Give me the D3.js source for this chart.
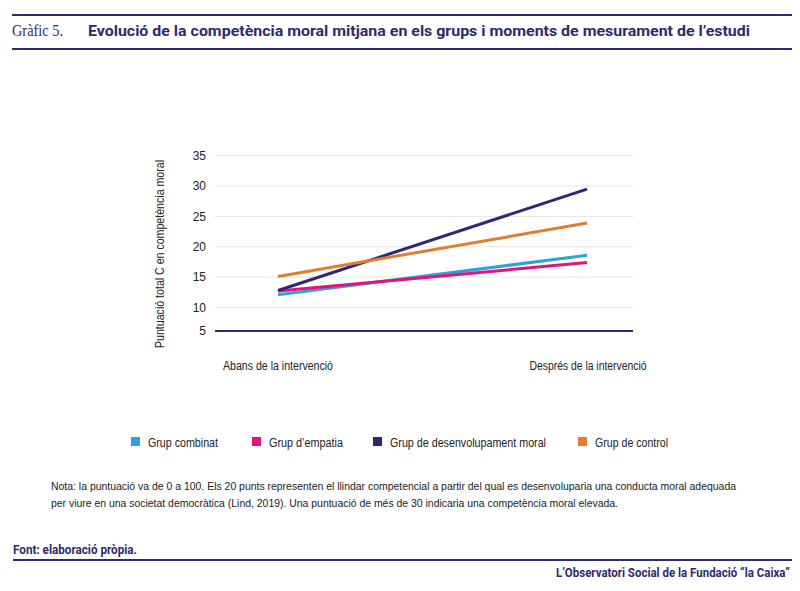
<!DOCTYPE html>
<html>
<head>
<meta charset="utf-8">
<script src="https://cdn.jsdelivr.net/npm/d3@7"></script>
<style>
  body { margin: 0; background: #fff; }
  svg text { font-family: "Liberation Sans", Arial, sans-serif; }
</style>
</head>
<body>
<div id="chart"></div>
<script>
// DATA
const moments = ['Abans de la intervenció', 'Després de la intervenció'];
const groups = ['Grup combinat', 'Grup d\u2019empatia', 'Grup de desenvolupament moral', 'Grup de control'];
const combinat = [12.1, 18.6];
const empatia = [12.7, 17.4];
const desenvolupament = [12.8, 29.5];
const control = [15.1, 23.9];
const yTicks = [5, 10, 15, 20, 25, 30, 35];
const colors = ['#2ea3d9', '#e5127d', '#2e2775', '#e07d2e'];

const series = [combinat, empatia, desenvolupament, control];
const navy = '#2e2a6e';

// SVG
const width = 800, height = 591;
const svg = d3.select('#chart').append('svg')
  .attr('width', width).attr('height', height);

// HEADER
svg.append('line').attr('x1', 12).attr('x2', 792).attr('y1', 15).attr('y2', 15)
  .attr('stroke', navy).attr('stroke-width', 2);
svg.append('line').attr('x1', 12).attr('x2', 792).attr('y1', 49).attr('y2', 49)
  .attr('stroke', navy).attr('stroke-width', 2);
svg.append('text').text('Gràfic 5.')
  .attr('x', 12).attr('y', 36)
  .attr('textLength', 51).attr('lengthAdjust', 'spacingAndGlyphs')
  .style('font-family', '"Liberation Serif", "DejaVu Serif", serif')
  .style('font-size', '16px').attr('fill', navy);
svg.append('text').text('Evolució de la competència moral mitjana en els grups i moments de mesurament de l\u2019estudi')
  .attr('x', 88).attr('y', 36)
  .attr('textLength', 662).attr('lengthAdjust', 'spacingAndGlyphs')
  .style('font-family', 'Roboto, sans-serif').style('font-weight', 'bold')
  .style('font-size', '15px').attr('fill', navy);

// SCALES
const x = d3.scalePoint().domain(moments).range([278, 587]);
const y = d3.scaleLinear().domain([5, 10, 35]).range([331, 307.5, 155.7]);

// GRID
const plot = svg.append('g');
plot.selectAll('.grid').data(yTicks.filter(d => d > 5)).join('line')
  .attr('x1', 215).attr('x2', 633)
  .attr('y1', d => y(d)).attr('y2', d => y(d))
  .attr('stroke', '#e6e6e6').attr('stroke-width', 1);

// Y AXIS
const yAxis = plot.append('g')
  .attr('transform', 'translate(215,0)')
  .call(d3.axisLeft(y).tickValues(yTicks).tickSize(0).tickPadding(9));
yAxis.select('.domain').remove();
yAxis.selectAll('text').style('font-size', '12px').attr('fill', '#222')
  .style('font-family', '"Liberation Sans", Arial, sans-serif');

// BASELINE
plot.append('line').attr('x1', 215).attr('x2', 633)
  .attr('y1', y(5)).attr('y2', y(5))
  .attr('stroke', navy).attr('stroke-width', 2);

// X LABELS
const xLabLen = [110, 117];
plot.selectAll('.xlab').data(moments).join('text')
  .text(d => d)
  .attr('x', (d, i) => x(d) + (i ? 1 : 0)).attr('y', 370)
  .attr('text-anchor', 'middle')
  .attr('textLength', (d, i) => xLabLen[i]).attr('lengthAdjust', 'spacingAndGlyphs')
  .style('font-size', '12px').attr('fill', '#222');

// Y TITLE
svg.append('text').text('Puntuació total C en competència moral')
  .attr('transform', 'translate(164,254)rotate(-90)')
  .attr('text-anchor', 'middle')
  .attr('textLength', 188).attr('lengthAdjust', 'spacingAndGlyphs')
  .style('font-size', '12px').attr('fill', '#222');

// LINES
const line = d3.line().x((d, i) => x(moments[i])).y(d => y(d));
plot.selectAll('.series').data(series).join('path')
  .attr('d', d => line(d))
  .attr('fill', 'none')
  .attr('stroke', (d, i) => colors[i])
  .attr('stroke-width', 3);

// LEGEND
const legendX = [131, 252, 373, 578];
const legendLen = [70, 74, 156, 73];
const legend = svg.selectAll('.legend').data(groups).join('g')
  .attr('transform', (d, i) => `translate(${legendX[i]},437)`);
legend.append('rect').attr('width', 9).attr('height', 9)
  .attr('fill', (d, i) => colors[i]);
legend.append('text').text(d => d)
  .attr('x', 17).attr('y', 9.5)
  .attr('textLength', (d, i) => legendLen[i]).attr('lengthAdjust', 'spacingAndGlyphs')
  .style('font-size', '12px').attr('fill', '#222');

// NOTE
const note = [
  'Nota: la puntuació va de 0 a 100. Els 20 punts representen el llindar competencial a partir del qual es desenvoluparia una conducta moral adequada',
  'per viure en una societat democràtica (Lind, 2019). Una puntuació de més de 30 indicaria una competència moral elevada.'
];
const noteLen = [685, 567];
svg.selectAll('.note').data(note).join('text')
  .text(d => d)
  .attr('x', 51).attr('y', (d, i) => 490 + i * 17)
  .attr('textLength', (d, i) => noteLen[i]).attr('lengthAdjust', 'spacingAndGlyphs')
  .style('font-size', '11px').attr('fill', '#222');

// FOOTER
svg.append('text').text('Font:  elaboració pròpia.')
  .attr('x', 13).attr('y', 554)
  .attr('textLength', 124).attr('lengthAdjust', 'spacingAndGlyphs')
  .style('font-family', 'Roboto, sans-serif').style('font-weight', 'bold')
  .style('font-size', '12px').attr('fill', navy);
svg.append('line').attr('x1', 13).attr('x2', 792).attr('y1', 560).attr('y2', 560)
  .attr('stroke', navy).attr('stroke-width', 2);
svg.append('text').text('L\u2019Observatori Social de la Fundació \u201Cla Caixa\u201D')
  .attr('x', 790).attr('y', 577).attr('text-anchor', 'end')
  .attr('textLength', 234).attr('lengthAdjust', 'spacingAndGlyphs')
  .style('font-family', 'Roboto, sans-serif').style('font-weight', 'bold')
  .style('font-size', '12px').attr('fill', navy);
</script>
</body>
</html>
